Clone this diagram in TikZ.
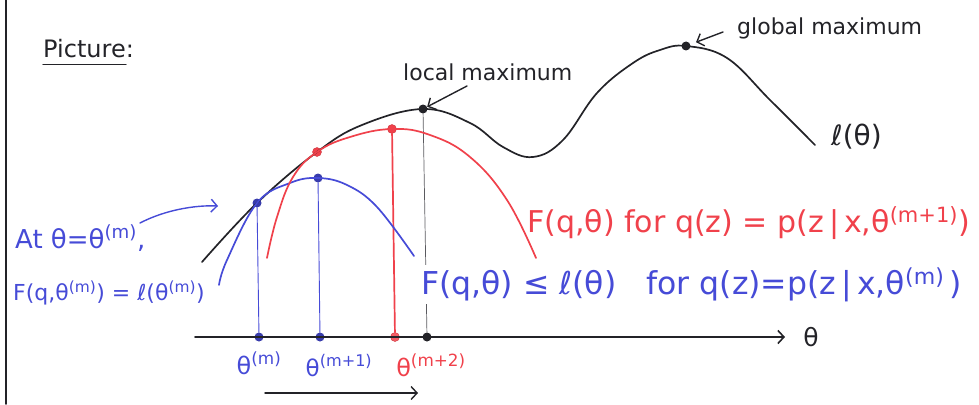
\documentclass[tikz,border=0pt]{standalone}
\usepackage{fontspec}
\setmainfont{DejaVu Sans}
\usetikzlibrary{arrows.meta}
\definecolor{pblue}{RGB}{70,75,215}
\definecolor{pred}{RGB}{240,65,75}
\definecolor{pblack}{RGB}{35,35,40}
\definecolor{pgray}{RGB}{90,90,95}
\newcommand{\fs}[1]{\fontsize{#1}{#1}\selectfont}
\newcommand{\sups}[1]{\textsuperscript{#1}}
\begin{document}
\begin{tikzpicture}[x=1pt,y=-1pt,line cap=round,line join=round,
  pen/.style={line width=1.7pt},
  thin/.style={line width=0.9pt},
  dotk/.style={circle,fill=pblack,inner sep=0pt,minimum size=9pt},
  dotb/.style={circle,fill=pblue!80!black,inner sep=0pt,minimum size=9pt},
  dotr/.style={circle,fill=pred,draw=pred!85!black,inner sep=0pt,minimum size=9pt},
  arr/.style={-{Straight Barb[length=6pt,width=13pt]},line width=1.4pt},
  lab/.style={inner sep=0pt,anchor=base west},
  clab/.style={inner sep=0pt,anchor=base}]
\useasboundingbox (0,0) rectangle (979,404);
% left border
\draw[pblack,line width=1.6pt] (6,0) -- (6,404);
% title
\node[lab,pblack,font=\fs{24}] (title) at (43,58) {Picture:};
\draw[pblack,line width=1.4pt] (title.south west) ++(0,6) coordinate (ul1) -- ++(83,0) coordinate (ul2);

% dots on the curves
\node[dotb] (bm) at (257,203) {};
\node[dotr] (rm) at (317,152) {};
\node[dotb] (bmax) at (318,178) {};
\node[dotr] (rmax) at (392,129) {};
\node[dotk] (lmax) at (423,109) {};
\node[dotk] (gmax) at (686,46) {};

% axis dots
\node[dotb] (am) at (259,337) {};
\node[dotb] (am1) at (320,337) {};
\node[dotr,fill=pred!85!white] (am2) at (395,337) {};
\node[dotk] (aml) at (427,337) {};

% vertical lines
\draw[pblue,thin] (bm) -- (am);
\draw[pblue,thin] (bmax) -- (am1);
\draw[pred,line width=1.7pt] (rmax) -- (am2);
\draw[pgray,line width=0.7pt] (lmax) -- (aml);

% log-likelihood curve
\draw[pblack,pen] plot[smooth,tension=0.65] coordinates {(202,262) (257,203) (317,152) (362,125) (423,109) (470,123) (503,147) (533,157) (563,140) (597,93) (633,63) (660,50) (686,46) (727,58) (770,100) (815,145)};
% blue lower bound
\draw[pblue,pen] plot[smooth,tension=0.65] coordinates {(219,285) (227,260) (257,203) (290,183) (318,178) (347,185) (377,207) (414,256)};
% red lower bound
\draw[pred,pen] plot[smooth,tension=0.7] coordinates {(267,258) (277,217) (293,177) (317,152) (350,137) (392,129) (430,135) (470,157) (507,200) (536,258)};

% axis
\coordinate (ax0) at (195,337);
\coordinate (ax1) at (785,337);
\draw[pblack,arr,line width=1.6pt] (ax0) -- (ax1);
\node[pblack,font=\fs{25},inner sep=0pt] (thlab) at (811,337) {θ};

% bottom arrow
\coordinate (ba0) at (265,393);
\coordinate (ba1) at (418,393);
\draw[pblack,arr] (ba0) -- (ba1);

% axis labels
\node[clab,pblue,font=\fs{24}] (tm) at (259,374) {θ\sups{(m)}};
\node[clab,pblue,font=\fs{23}] (tm1) at (339,376) {θ\sups{(m+1)}};
\node[clab,pred,font=\fs{24}] (tm2) at (431,376) {θ\sups{(m+2)}};

% labels of maxima
\node[lab,pblack,font=\fs{22}] (llab) at (403,80) {local maximum};
\node[lab,pblack,font=\fs{22}] (glab) at (737,35) {global maximum};
\coordinate (la) at (467,86);
\coordinate (ga) at (723,32);
\draw[pblack,arr] (la) -- (lmax);
\draw[pblack,arr,shorten >=6pt] (ga) -- (gmax);
\node[lab,pblack,font=\fs{28}] (ell) at (831,145) {ℓ(θ)};

% red text
\node[lab,pred,font=\fs{30}] (rtext) at (527,232) {F(q,θ) for q(z) = p(z\,|\,x,θ\sups{(m+1)})};
% blue text
\node[lab,pblue,font=\fs{31.5},fill=white,inner ysep=3pt] (btext) at (421,294) {F(q,θ) ≤ ℓ(θ) \ \ for q(z)=p(z\,|\,x,θ\sups{(m)}\,)};

% left text
\node[lab,pblue,font=\fs{26}] (at) at (15,248) {At θ=θ\sups{(m)},};
\node[lab,pblue,font=\fs{22}] (feq) at (13,300) {F(q,θ\sups{(m)}) = ℓ(θ\sups{(m)})};
\coordinate (ar0) at (140,223);
\coordinate (ar1) at (218,206);
\draw[pblue,arr] (ar0) .. controls (165,210) and (195,205) .. (ar1);
\end{tikzpicture}
\end{document}
